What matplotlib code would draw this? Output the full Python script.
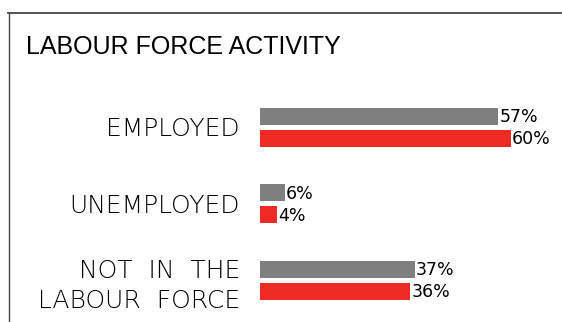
import matplotlib
matplotlib.use("Agg")
import matplotlib.pyplot as plt
from matplotlib.lines import Line2D

title = "LABOUR FORCE ACTIVITY"
categories = ["EMPLOYED", "UNEMPLOYED", "NOT  IN  THE\nLABOUR  FORCE"]
series_a = [57, 6, 37]   # gray
series_b = [60, 4, 36]   # red
color_a = "#7f7f7f"
color_b = "#ee2a24"

FONT = "DejaVu Sans"
W, H = 562, 322
fig = plt.figure(figsize=(W / 100, H / 100), dpi=100)

# frame lines (top and left)
fig.add_artist(Line2D([8 / W, 1], [1 - 12.5 / H, 1 - 12.5 / H], color="#444444", lw=1.3, transform=fig.transFigure))
fig.add_artist(Line2D([8.5 / W, 8.5 / W], [0, 1 - 12.5 / H], color="#444444", lw=1.0, transform=fig.transFigure))

fig.text(26 / W, 1 - 47 / H, title, fontsize=18, family="Liberation Sans", va="center", ha="left")

ax = fig.add_axes([260 / W, 1 - 318.25 / H, 300 / W, 229.5 / H])
ax.set_xlim(0, 300 / 4.18)
ax.set_ylim(2.5, -0.5)
off = 11 / 76.5
bh = 17 / 76.5
ys = list(range(len(categories)))
ax.barh([y - off for y in ys], series_a, height=bh, color=color_a)
ax.barh([y + off for y in ys], series_b, height=bh, color=color_b)
for y, a, b in zip(ys, series_a, series_b):
    ax.annotate(f"{a}%", (a, y - off), xytext=(0.7, -1), textcoords="offset points",
                va="center", ha="left", fontsize=12.5, family=FONT)
    ax.annotate(f"{b}%", (b, y + off), xytext=(0.7, -1), textcoords="offset points",
                va="center", ha="left", fontsize=12.5, family=FONT)

ax.set_yticks(ys)
ax.set_yticklabels(categories, fontsize=18, family=FONT, fontweight="light", linespacing=1.35)
ax.tick_params(axis="y", length=0, pad=14.4)
ax.set_xticks([])
for s in ax.spines.values():
    s.set_visible(False)
ax.patch.set_visible(False)

fig.savefig("out.png", dpi=100)
